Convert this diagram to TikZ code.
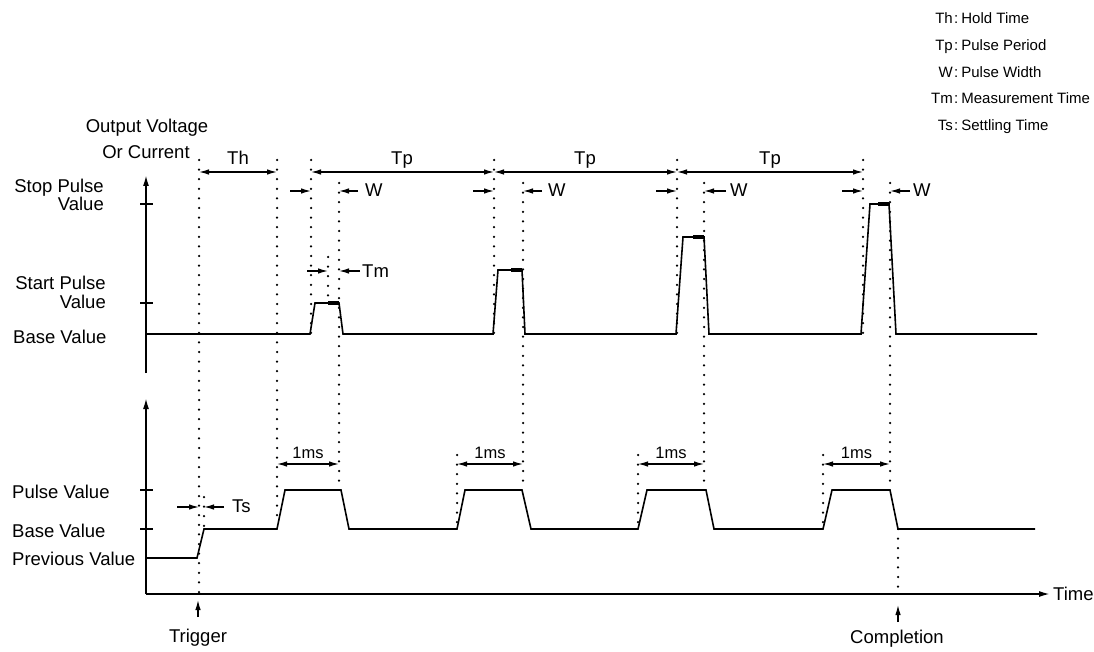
\documentclass[tikz,border=0pt]{standalone}
\usepackage{fontspec}
\setmainfont{Liberation Sans}
\usetikzlibrary{arrows.meta}
\begin{document}
\begin{tikzpicture}[x=1pt,y=-1pt,
  sig/.style={line width=1.6pt,line join=miter},
  axis/.style={line width=1.7pt},
  tm/.style={line width=3.4pt},
  dotline/.style={line width=2.5pt,line cap=round,dash pattern=on 0pt off 9.6pt},
  dim/.style={line width=1.2pt,{Latex[length=10pt,width=5.5pt]}-{Latex[length=10pt,width=5.5pt]}},
  tip/.style={line width=1.2pt,-{Latex[length=10pt,width=5.5pt]}},
  lbl/.style={inner sep=0pt,font=\fontsize{18.5}{21}\selectfont},
  sml/.style={inner sep=0pt,font=\fontsize{16.5}{19}\selectfont},
  leg/.style={inner sep=0pt,font=\fontsize{15}{18}\selectfont}]
\useasboundingbox (0,0) rectangle (1094,652);

% ---------- axes ----------
\coordinate (ua0) at (146,373); \coordinate (ua1) at (146,175);
\coordinate (la0) at (146,594); \coordinate (la1) at (146,398);
\coordinate (tx1) at (1050,594);
\draw[axis,-{Latex[length=11pt,width=6pt]}] (ua0) -- (ua1);
\draw[axis,-{Latex[length=11pt,width=6pt]}] (la0) -- (la1);
\draw[axis,-{Latex[length=11pt,width=6pt]}] (la0) -- (tx1);
\foreach \y in {204,303,490,529} \draw[line width=1.3pt] (140,\y) -- (153,\y);

% ---------- axis labels ----------
\node[lbl,anchor=base] (ov) at (147,133) {Output Voltage};
\node[lbl,anchor=base] (oc) at (146,159) {Or Current};
\node[lbl,anchor=base east] (sp1) at (104,193) {Stop Pulse};
\node[lbl,anchor=base east] (sp2) at (104,211) {Value};
\node[lbl,anchor=base east] (st1) at (106,289) {Start Pulse};
\node[lbl,anchor=base east] (st2) at (106,308) {Value};
\node[lbl,anchor=base west] (bv1) at (13,343) {Base Value};
\node[lbl,anchor=base west] (pv) at (12,498) {Pulse Value};
\node[lbl,anchor=base west] (bv2) at (12,537) {Base Value};
\node[lbl,anchor=base west] (prv) at (12,565) {Previous Value};
\node[lbl,anchor=base west] (time) at (1053,600) {Time};

% ---------- legend ----------
\foreach \a/\t/\y [count=\i] in {Th/Hold Time/24, Tp/Pulse Period/51, W/Pulse Width/78, Tm/Measurement Time/104, Ts/Settling Time/131}{
  \node[leg,anchor=base east] (la\i) at (953,\y) {\a};
  \node[leg,anchor=base west] (ld\i) at (954,\y) {:\hspace{3pt}\t};
}

% ---------- upper signal ----------
\draw[sig] (146,334) -- (310,334) -- (315,303) -- (339,303) -- (343,334)
  -- (493,334) -- (498,270) -- (522,270) -- (525,334)
  -- (676,334) -- (683,237) -- (704,237) -- (709,334)
  -- (861,334) -- (870,204) -- (889,204) -- (896,334) -- (1037,334);
\draw[tm] (328,303) -- (339,303);
\draw[tm] (511,270) -- (522,270);
\draw[tm] (693,237) -- (704,237);
\draw[tm] (878,204) -- (889,204);

% ---------- lower signal ----------
\draw[sig] (146,558) -- (197,558) -- (204,529) -- (277,529) -- (285,490) -- (341,490) -- (349,529)
  -- (457,529) -- (465,490) -- (522,490) -- (531,529)
  -- (638,529) -- (647,490) -- (706,490) -- (714,529)
  -- (823,529) -- (832,490) -- (890,490) -- (898,529) -- (1035,529);

% ---------- dotted guide lines ----------
\draw[dotline] (199,160) -- (199,594);
\draw[dotline] (277,160) -- (277,520);
\foreach \x in {311,494,677,863} \draw[dotline] (\x,160) -- (\x,334);
\foreach \x in {339,523,704,890} \draw[dotline] (\x,183) -- (\x,490);
\draw[dotline] (328,257) -- (328,303);
\foreach \x in {457,638,823} \draw[dotline] (\x,455) -- (\x,529);
\draw[dotline] (204,497) -- (204,529);
\draw[dotline] (898,529) -- (898,594);

% ---------- Th / Tp ----------
\coordinate (th0) at (199,172); \coordinate (th1) at (277,172);
\draw[dim] (th0) -- (th1);
\node[lbl,anchor=base] (thl) at (238,165) {Th};
\coordinate (p1) at (311,172); \coordinate (p2) at (494,172);
\coordinate (p3) at (677,172); \coordinate (p4) at (863,172);
\draw[dim] (p1) -- (p2); \draw[dim] (p2) -- (p3); \draw[dim] (p3) -- (p4);
\node[lbl,anchor=base] (tp1) at (402,165) {Tp};
\node[lbl,anchor=base] (tp2) at (585,165) {Tp};
\node[lbl,anchor=base] (tp3) at (770,165) {Tp};

% ---------- W ----------
\foreach \s/\e/\r/\w [count=\i] in {311/339/358/365, 494/523/542/548, 677/704/726/730, 863/890/910/913}{
  \coordinate (wa\i) at ({\s-21},191); \coordinate (wb\i) at (\s,191);
  \coordinate (wc\i) at (\r,191); \coordinate (wd\i) at (\e,191);
  \draw[tip] (wa\i) -- (wb\i);
  \draw[tip] (wc\i) -- (wd\i);
  \node[lbl,anchor=base west] (wl\i) at (\w,197) {W};
}

% ---------- Tm ----------
\coordinate (tma) at (307,271); \coordinate (tmb) at (328,271);
\coordinate (tmc) at (360,271); \coordinate (tmd) at (339,271);
\draw[tip] (tma) -- (tmb);
\draw[tip] (tmc) -- (tmd);
\node[lbl,anchor=base west] (tml) at (362,277) {Tm};

% ---------- Ts ----------
\coordinate (tsa) at (177,507); \coordinate (tsb) at (199,507);
\coordinate (tsc) at (224,507); \coordinate (tsd) at (204,507);
\draw[tip] (tsa) -- (tsb);
\draw[tip] (tsc) -- (tsd);
\node[lbl,anchor=base west] (tsl) at (232,512) {Ts};

% ---------- 1ms ----------
\foreach \s/\e [count=\i] in {277/339, 457/523, 638/704, 823/890}{
  \coordinate (ma\i) at (\s,464); \coordinate (mb\i) at (\e,464);
  \draw[dim] (ma\i) -- (mb\i);
  \node[sml,anchor=base] (ml\i) at ({(\s+\e)/2},458) {1ms};
}

% ---------- trigger / completion ----------
\coordinate (tr0) at (198,617); \coordinate (tr1) at (198,600);
\draw[tip] (tr0) -- (tr1);
\node[lbl,anchor=base] (trl) at (198,642) {Trigger};
\coordinate (co0) at (898,622); \coordinate (co1) at (898,605);
\draw[tip] (co0) -- (co1);
\node[lbl,anchor=base] (col) at (897,643) {Completion};
\end{tikzpicture}
\end{document}
